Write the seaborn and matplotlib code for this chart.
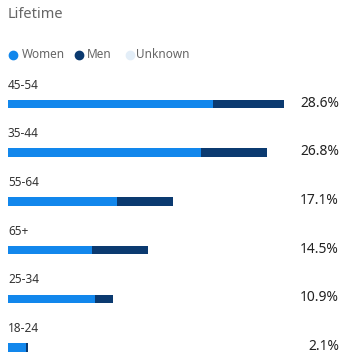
import pandas as pd
import numpy as np
import seaborn as sns
import matplotlib.pyplot as plt

# data
ages = ["45-54", "35-44", "55-64", "65+", "25-34", "18-24"]
totals = [28.6, 26.8, 17.1, 14.5, 10.9, 2.1]
women = [21.2, 20.0, 11.3, 8.7, 9.0, 1.9]
legend_labels = ["Women", "Men", "Unknown"]

c_women = "#1287EC"
c_men = "#0B3A70"
c_unknown = "#E3EEF8"

df = pd.DataFrame({"age": ages, "total": totals, "women": women})

sns.set_style("white")
plt.rcParams['font.family'] = ['Noto Sans', 'DejaVu Sans']

W, H = 347, 354
fig = plt.figure(figsize=(W / 100, H / 100), dpi=100)
ax = fig.add_axes([8 / W, 0, 1 - 8 / W, 1])

# men part = full bar, women drawn on top
sns.barplot(data=df, x="total", y="age", color=c_men, width=0.175,
            saturation=1, linewidth=0, ax=ax, orient="h")
sns.barplot(data=df, x="women", y="age", color=c_women, width=0.175,
            saturation=1, linewidth=0, ax=ax, orient="h")

px = 9.65  # pixels per percent
ax.set_xlim(0, (W - 8) / px)
step = 48.7
ax.set_ylim((H - 104) / step, -104 / step)
ax.axis("off")

for i, (a, t) in enumerate(zip(ages, totals)):
    ax.text(0, i - 0.39, a, fontsize=8.5, color="#333333", va="center", ha="left")
    ax.text((339 - 8) / px, i - 0.02, f"{t}%", fontsize=10, color="#222222",
            va="center", ha="right")

def fxy(x, y):
    return x / W, 1 - y / H

fig.text(*fxy(8, 15), "Lifetime", fontsize=10.5, color="#666666", va="center", ha="left")

dots = [(13, c_women), (79, c_men), (130, c_unknown)]
text_x = [22, 87, 136]
for (dx, col), tx, lab in zip(dots, text_x, legend_labels):
    fig.add_artist(plt.Line2D([dx / W], [1 - 55 / H], marker="o", markersize=6,
                              color=col, linestyle="none", transform=fig.transFigure))
    fig.text(*fxy(tx, 55), lab, fontsize=8.5, color="#666666", va="center", ha="left")

fig.savefig("out.png", dpi=100, facecolor="white")
